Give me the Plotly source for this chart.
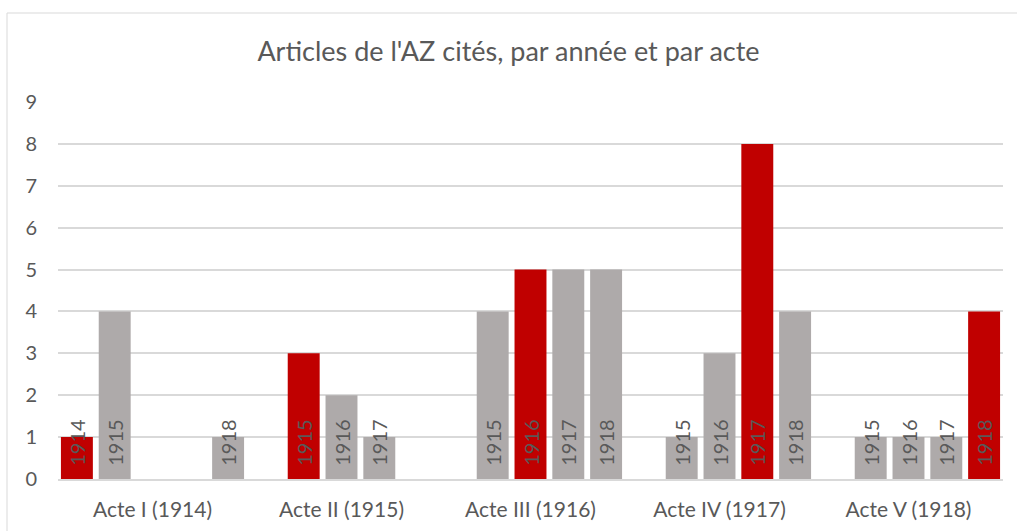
import plotly.graph_objects as go

acts = ["Acte I (1914)", "Acte II (1915)", "Acte III (1916)", "Acte IV (1917)", "Acte V (1918)"]
act_years = [1914, 1915, 1916, 1917, 1918]
years = [1914, 1915, 1916, 1917, 1918]
v1914 = [1, None, None, None, None]
v1915 = [4, 3, 4, 1, 1]
v1916 = [None, 2, 5, 3, 1]
v1917 = [None, 1, 5, 8, 1]
v1918 = [1, None, 5, 4, 4]
series = [v1914, v1915, v1916, v1917, v1918]

RED = "#C00000"
GRAY = "#AEAAAA"
TXT = "#595959"
FONT = "Lato"

W, H = 1017, 531
ml, mr, mt, mb = 58, 14, 102, 52

fig = go.Figure()
for yr, vals in zip(years, series):
    colors = [RED if ay == yr else GRAY for ay in act_years]
    texts = [("\u00a0" * 2 + str(yr)) if v is not None else "" for v in vals]
    fig.add_trace(go.Bar(
        x=acts, y=vals, name=str(yr),
        marker=dict(color=colors, line=dict(width=0)),
        text=texts, textposition="inside", insidetextanchor="start",
        textangle=-90, constraintext="none", cliponaxis=False,
        insidetextfont=dict(family=FONT, size=20, color=TXT),
        hoverinfo="skip",
    ))

pw = W - ml - mr
ph = H - mt - mb
fig.update_layout(
    width=W, height=H,
    barmode="group", bargap=0, bargroupgap=0.155,
    showlegend=False,
    paper_bgcolor="white", plot_bgcolor="white",
    margin=dict(l=ml, r=mr, t=mt, b=mb, pad=0, autoexpand=False),
    title=dict(text="Articles de l'AZ cités, par année et par acte",
               x=0.5, xanchor="center", y=1 - 52 / H, yanchor="middle",
               font=dict(family=FONT, size=27, color=TXT)),
    xaxis=dict(showgrid=False, showline=True, linecolor="#D9D9D9", linewidth=1.5,
               ticks="", tickfont=dict(family=FONT, size=21, color=TXT),
               ticklabelstandoff=11, automargin=False),
    yaxis=dict(range=[0, 9], dtick=1, showgrid=True, gridcolor="#D9D9D9", gridwidth=1.5,
               zeroline=False, showline=False, ticks="",
               tickfont=dict(family=FONT, size=20, color=TXT),
               ticklabelstandoff=20, automargin=False),
    shapes=[dict(type="rect", xref="paper", yref="paper",
                 x0=(7 - ml) / pw, x1=(W + 5 - ml) / pw,
                 y0=-(H + 5 - mt - ph) / ph, y1=1 + (mt - 13) / ph,
                 line=dict(color="#D9D9D9", width=1), layer="below")],
)
fig.write_html("out.html", config={"displayModeBar": False},
               post_script="document.body.style.margin='0';")
